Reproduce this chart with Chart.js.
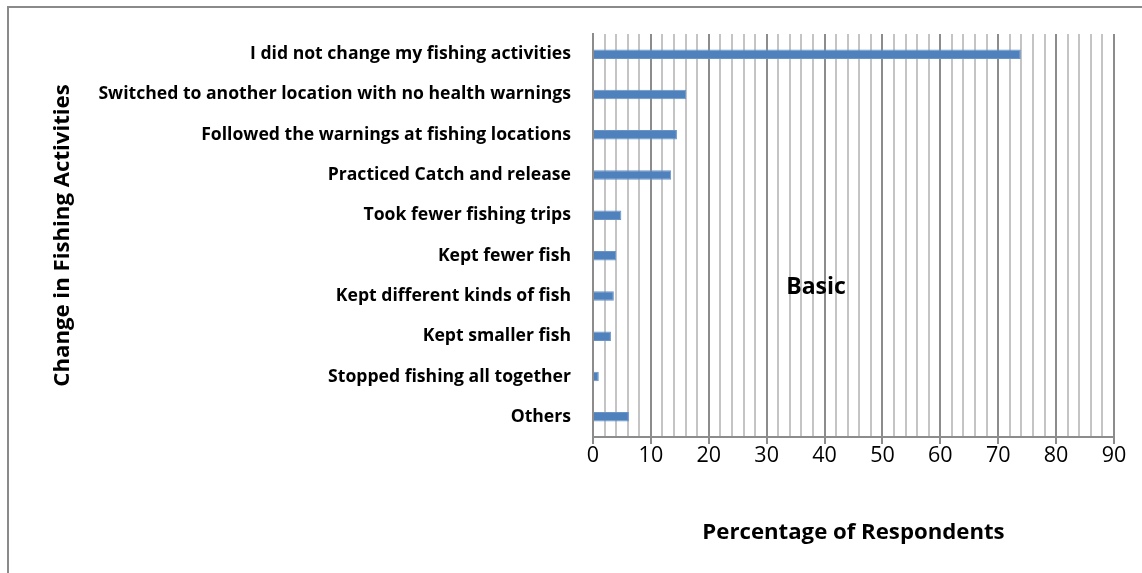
<!DOCTYPE html>
<html>
<head>
<meta charset="utf-8">
<script src="https://cdn.jsdelivr.net/npm/chart.js@4.4.1/dist/chart.umd.min.js"></script>
<style>
  html, body { margin: 0; padding: 0; background: #fff; overflow: hidden; }
  #frame { position: absolute; left: 7px; top: 6px; width: 1200px; height: 620px;
           border-left: 2px solid #8a8a8a; border-top: 2px solid #8a8a8a; }
  #wrap { position: absolute; left: 0; top: 0; width: 1142px; height: 573px; }
</style>
</head>
<body>
<div id="frame"></div>
<div id="wrap"><canvas id="fishChart"></canvas></div>
<script>
// chart data
const A_categories = [
    "I did not change my fishing activities",
    "Switched to another location with no health warnings",
    "Followed the warnings at fishing locations",
    "Practiced Catch and release",
    "Took fewer fishing trips",
    "Kept fewer fish",
    "Kept different kinds of fish",
    "Kept smaller fish",
    "Stopped fishing all together",
    "Others"
];
const A_percentages = [73.9, 16.1, 14.5, 13.5, 4.9, 4.0, 3.6, 3.1, 1.0, 6.2];
const A_xTicks = [0, 10, 20, 30, 40, 50, 60, 70, 80, 90];
const S_seriesName = "Basic";

const S_font = "'Open Sans'";

// "Basic" text box drawn in the plot area
const basicLabel = {
    id: "basicLabel",
    afterDraw(chart) {
        const ctx = chart.ctx;
        const area = chart.chartArea;
        ctx.save();
        ctx.font = "bold 23px " + S_font;
        ctx.fillStyle = "#000";
        ctx.textAlign = "center";
        ctx.textBaseline = "middle";
        ctx.fillText(S_seriesName, area.left + area.width * 0.428, area.top + area.height * 0.628);
        ctx.restore();
    }
};

new Chart("fishChart", {
    type: "bar",
    data: {
        labels: A_categories,
        datasets: [{
            label: S_seriesName,
            data: A_percentages,
            backgroundColor: "#4f81bd",
            borderColor: "#6a94c8",
            borderWidth: 1,
            barPercentage: 0.47,
            categoryPercentage: 0.5
        }]
    },
    options: {
        indexAxis: "y",
        responsive: true,
        maintainAspectRatio: false,
        animation: false,
        layout: { padding: { left: 45, right: 28, top: 34, bottom: 23 } },
        plugins: {
            legend: { display: false },
            tooltip: { enabled: false }
        },
        scales: {
            x: {
                min: 0,
                max: 90,
                ticks: {
                    stepSize: 2,
                    autoSkip: false,
                    maxRotation: 0,
                    padding: -1,
                    color: "#000",
                    font: { family: S_font, size: 21.5 },
                    callback: (v) => A_xTicks.includes(v) ? v : ""
                },
                grid: {
                    color: (c) => c.tick && c.tick.value % 10 === 0 ? "#8c8c8c" : "#c4c4c4",
                    lineWidth: 2,
                    tickLength: 7,
                    tickColor: (c) => c.tick && c.tick.value % 10 === 0 ? "#8c8c8c" : "rgba(0,0,0,0)"
                },
                border: { display: true, color: "#8c8c8c", width: 2 },
                title: {
                    display: true,
                    text: "Percentage of Respondents",
                    color: "#000",
                    font: { family: S_font, size: 22.2, weight: "bold" }
                },
                afterFit(scale) { scale.height = 113; }
            },
            y: {
                ticks: {
                    padding: 22,
                    color: "#000",
                    font: { family: S_font, size: 17.6, weight: "bold" }
                },
                grid: { display: false, drawTicks: false },
                border: { display: true, color: "#8c8c8c", width: 2 },
                title: {
                    display: true,
                    text: "Change in Fishing Activities",
                    color: "#000",
                    font: { family: S_font, size: 22.2, weight: "bold" }
                },
                afterFit(scale) { scale.width = 548; }
            }
        }
    },
    plugins: [basicLabel]
});
</script>
</body>
</html>
